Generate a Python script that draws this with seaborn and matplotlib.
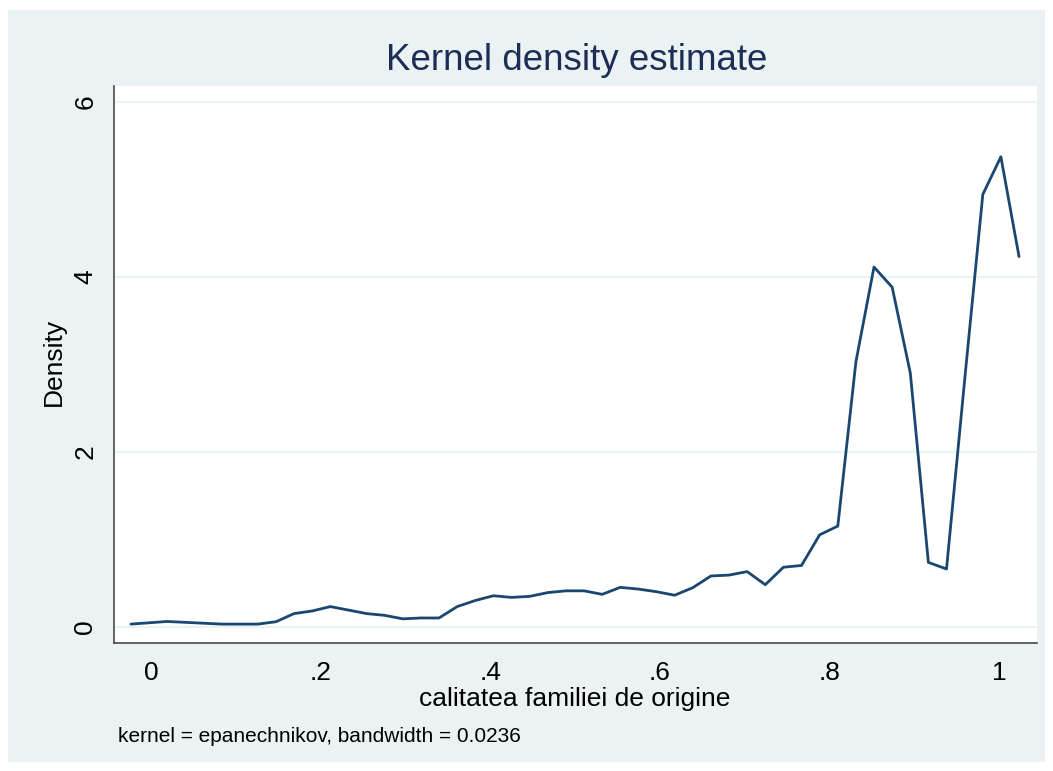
import numpy as np
import pandas as pd
import matplotlib.pyplot as plt
import seaborn as sns
from matplotlib.patches import Rectangle

# evaluation points of the kde (50 points, Stata default)
x_points = [-0.0236, -0.0022, 0.0191, 0.0405, 0.0619, 0.0833, 0.1046, 0.1260, 0.1474, 0.1687,
            0.1901, 0.2115, 0.2329, 0.2542, 0.2756, 0.2970, 0.3183, 0.3397, 0.3611, 0.3825,
            0.4038, 0.4252, 0.4466, 0.4679, 0.4893, 0.5107, 0.5321, 0.5534, 0.5748, 0.5962,
            0.6175, 0.6389, 0.6603, 0.6817, 0.7030, 0.7244, 0.7458, 0.7671, 0.7885, 0.8099,
            0.8313, 0.8526, 0.8740, 0.8954, 0.9167, 0.9381, 0.9595, 0.9809, 1.0022, 1.0236]
density = [0.03, 0.045, 0.06, 0.05, 0.04, 0.03, 0.03, 0.03, 0.057, 0.15,
           0.18, 0.23, 0.19, 0.15, 0.13, 0.09, 0.10, 0.10, 0.23, 0.30,
           0.354, 0.335, 0.347, 0.39, 0.41, 0.41, 0.37, 0.45, 0.43, 0.40,
           0.36, 0.446, 0.58, 0.59, 0.63, 0.48, 0.68, 0.70, 1.05, 1.15,
           3.03, 4.11, 3.88, 2.90, 0.735, 0.66, 2.82, 4.94, 5.37, 4.23]

x_ticks = [0, 0.2, 0.4, 0.6, 0.8, 1.0]
x_tick_labels = ["0", ".2", ".4", ".6", ".8", "1"]
y_ticks = [0, 2, 4, 6]

df = pd.DataFrame({"x": x_points, "density": density})

sns.set_style("white")
plt.rcParams['font.family'] = ['Liberation Sans', 'DejaVu Sans']

W, H = 1053, 771
fig = plt.figure(figsize=(W / 100, H / 100), dpi=100, facecolor="white")
bg = "#EAF2F3"
fig.patches.append(Rectangle((8 / W, 9 / H), 1037 / W, 752 / H, transform=fig.transFigure,
                             facecolor=bg, edgecolor="none", zorder=-10))

left, right, top, bottom = 114, 1037, 86, 643
ax = fig.add_axes([left / W, 1 - bottom / H, (right - left) / W, (bottom - top) / H])
ax.set_facecolor("white")

sns.lineplot(data=df, x="x", y="density", ax=ax, color="#1A476F", linewidth=2.0)

ax.set_xlim(-0.0436, 1.0448)
ax.set_ylim(-0.186, 6.179)
ax.set_xticks(x_ticks)
ax.set_xticklabels(x_tick_labels)
ax.set_yticks(y_ticks)
ax.set_yticklabels([str(v) for v in y_ticks], rotation=90, va="center")

ax.grid(axis="y", color=bg, linewidth=1.6)
ax.set_axisbelow(True)
for s in ["top", "right"]:
    ax.spines[s].set_visible(False)
for s in ["left", "bottom"]:
    ax.spines[s].set_color("#4a4a4a")
    ax.spines[s].set_linewidth(1.2)
ax.tick_params(axis="both", direction="out", length=7, width=1.2, color="#4a4a4a",
               labelsize=19, labelcolor="black", pad=5)
ax.tick_params(axis="x", pad=6)

ax.set_xlabel("calitatea familiei de origine", fontsize=19, color="black")
ax.xaxis.set_label_coords((575 - left) / (right - left), -(687 - bottom) / (bottom - top))
ax.set_ylabel("Density", fontsize=19, color="black")
ax.yaxis.set_label_coords(-(left - 66) / (right - left), (bottom - 362) / (bottom - top))

fig.text(577 / W, 1 - 61 / H, "Kernel density estimate", fontsize=26.5, color="#1e2d55",
         ha="center", va="center")
fig.text(118 / W, 1 - 736 / H, "kernel = epanechnikov, bandwidth = 0.0236", fontsize=15,
         color="black", ha="left", va="center")

fig.savefig("out.png", dpi=100, facecolor="white")
